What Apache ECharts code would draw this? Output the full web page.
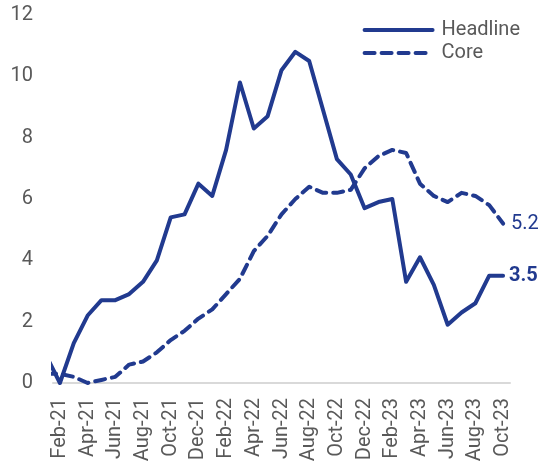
<!DOCTYPE html>
<html>
<head>
<meta charset="utf-8">
<script src="https://cdn.jsdelivr.net/npm/echarts@6/dist/echarts.min.js"></script>
<style>html,body{margin:0;padding:0;background:#fff}#c{width:539px;height:467px}</style>
</head>
<body>
<div id="c"></div>
<script>
// Months, including Jan-21 which sits just left of the visible axis
var months = ['Jan-21','Feb-21','Mar-21','Apr-21','May-21','Jun-21','Jul-21','Aug-21','Sep-21','Oct-21','Nov-21','Dec-21',
  'Jan-22','Feb-22','Mar-22','Apr-22','May-22','Jun-22','Jul-22','Aug-22','Sep-22','Oct-22','Nov-22','Dec-22',
  'Jan-23','Feb-23','Mar-23','Apr-23','May-23','Jun-23','Jul-23','Aug-23','Sep-23','Oct-23'];
var headline = [0.9, 0.0,1.3,2.2,2.7,2.7,2.9,3.3,4.0,5.4,5.5,6.5,6.1,7.6,9.8,8.3,8.7,10.2,10.8,10.5,8.9,7.3,6.8,5.7,5.9,6.0,3.3,4.1,3.2,1.9,2.3,2.6,3.5,3.5];
var core = [0.3, 0.3,0.2,0.0,0.1,0.2,0.6,0.7,1.0,1.4,1.7,2.1,2.4,2.9,3.4,4.3,4.8,5.5,6.0,6.4,6.2,6.2,6.3,7.0,7.4,7.6,7.5,6.5,6.1,5.9,6.2,6.1,5.8,5.2];
var yTicks = [0, 12, 2]; // min, max, interval

var categories = months.slice(1);
var color = '#213a8f';
function pairs(arr){ return arr.map(function(v,i){ return [i-1, v]; }); }

var chart = echarts.init(document.getElementById('c'));
chart.setOption({
  animation: false,
  grid: { left: 53, right: 29, top: 15, bottom: 84, containLabel: false },
  legend: {
    orient: 'vertical', right: 14, top: 15,
    itemWidth: 68, itemHeight: 14, itemGap: 3,
    itemStyle: { opacity: 0 },
    lineStyle: { width: 4 },
    textStyle: { fontFamily: 'Roboto', fontSize: 20, color: '#595959', padding: [0, 0, 0, 4] },
    data: ['Headline', 'Core']
  },
  xAxis: [
    {
      type: 'category', data: categories, boundaryGap: true,
      axisLine: { lineStyle: { color: '#d9d9d9', width: 2 } },
      axisTick: { show: false },
      axisLabel: { interval: 1, rotate: 90, margin: 15, fontFamily: 'Roboto', fontSize: 20, color: '#595959' }
    },
    { type: 'value', min: -0.5, max: categories.length - 0.5, show: false }
  ],
  yAxis: {
    type: 'value', min: yTicks[0], max: yTicks[1], interval: yTicks[2],
    axisLine: { show: false }, axisTick: { show: false }, splitLine: { show: false },
    axisLabel: { margin: 20, fontFamily: 'Roboto', fontSize: 20, color: '#595959' }
  },
  series: [
    {
      name: 'Headline', type: 'line', xAxisIndex: 1, data: pairs(headline),
      symbol: 'none', clip: true,
      lineStyle: { color: color, width: 4, join: 'round', cap: 'round' },
      itemStyle: { color: color },
      endLabel: { show: true, distance: 6, formatter: function(p){ return p.value[1].toFixed(1); },
        fontFamily: 'Roboto', fontSize: 20, fontWeight: 'bold', color: color }
    },
    {
      name: 'Core', type: 'line', xAxisIndex: 1, data: pairs(core),
      symbol: 'none', clip: true,
      lineStyle: { color: color, width: 4, type: [10, 7], join: 'round', cap: 'round' },
      itemStyle: { color: color },
      endLabel: { show: true, distance: 8, formatter: function(p){ return p.value[1].toFixed(1); },
        fontFamily: 'Roboto', fontSize: 20, color: color }
    }
  ]
});
</script>
</body>
</html>
